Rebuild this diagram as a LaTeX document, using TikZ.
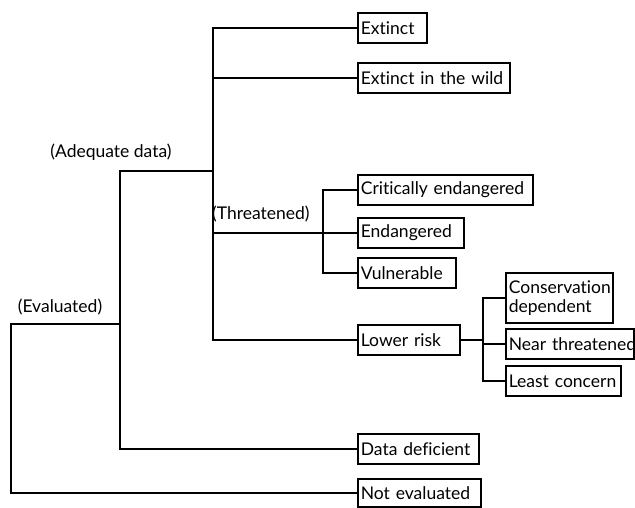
\documentclass[tikz,border=0pt]{standalone}
\usepackage{fontspec}
\setmainfont{Lato}[Ligatures=NoCommon]
\usepackage{tikz}
\usetikzlibrary{positioning,calc}
\tikzset{
  leaf/.style={draw, line width=1.7pt, anchor=north west, inner xsep=3pt, inner ysep=0pt,
    align=left, font=\fontsize{17.5}{19}\selectfont},
  branch/.style={line width=1.7pt},
  group/.style={inner sep=0pt, font=\fontsize{17.5}{19}\selectfont}
}

\begin{document}
\begin{tikzpicture}[x=1pt,y=-1pt,line cap=rect,line join=miter]
\useasboundingbox (0,0) rectangle (635,508);
%\draw[step=50,gray,very thin] (0,0) grid (635,508);
\node[leaf, text width=63pt,  minimum height=30pt] (ext)  at (357,12)  {Extinct};
\node[leaf, text width=146pt, minimum height=30pt] (wild) at (357,62)  {Extinct in the wild};
\node[leaf, text width=169pt, minimum height=30pt] (ce)   at (357,174) {Critically endangered};
\node[leaf, text width=100pt, minimum height=30pt] (en)   at (357,217) {Endangered};
\node[leaf, text width=92pt,  minimum height=30pt] (vu)   at (357,257) {Vulnerable};
\node[leaf, text width=96pt,  minimum height=30pt] (low)  at (357,324) {Lower risk};
\node[leaf, text width=101pt, minimum height=50pt] (cd)   at (505,272) {Conservation\\dependent};
\node[leaf, text width=122pt, minimum height=30pt] (nt)   at (505,328) {\mbox{Near threatened}};
\node[leaf, text width=109pt, minimum height=30pt] (lc)   at (505,365) {Least concern};
\node[leaf, text width=115pt, minimum height=30pt] (dd)   at (357,433) {Data deficient};
\node[leaf, text width=117pt, minimum height=28pt] (ne)   at (357,478) {Not evaluated};
% group labels
\node[group] (adqlbl) at (111,152) {(Adequate data)};
\node[group, anchor=west] (thrlbl) at (212,214) {(Threatened)};
\node[group] (evllbl) at (60,307) {(Evaluated)};
% junctions
\coordinate (j1) at (213,0);
\coordinate (t1) at (323,0);
\coordinate (l1) at (483,0);
\coordinate (a1) at (120,171);
\coordinate (a2) at (213,171);
\coordinate (e1) at (11,324);
% adequate data trunk
\draw[branch] (ext.west) -- (ext.west -| j1) -- (low.west -| j1) -- (low.west);
\draw[branch] (wild.west) -- (wild.west -| j1);
\draw[branch] (en.west) -- (en.west -| j1);
% threatened
\draw[branch] (ce.west) -- (ce.west -| t1) -- (vu.west -| t1) -- (vu.west);
% lower risk
\draw[branch] (cd.west) -- (cd.west -| l1) -- (lc.west -| l1) -- (lc.west);
\draw[branch] (low.east) -- (low.east -| l1);
\draw[branch] (nt.west) -- (nt.west -| l1);
% evaluated
\draw[branch] (a2) -- (a1) -- (a1 |- dd.west) -- (dd.west);
\draw[branch] (e1 -| a1) -- (e1) -- (e1 |- ne.west) -- (ne.west);
\end{tikzpicture}
\end{document}
